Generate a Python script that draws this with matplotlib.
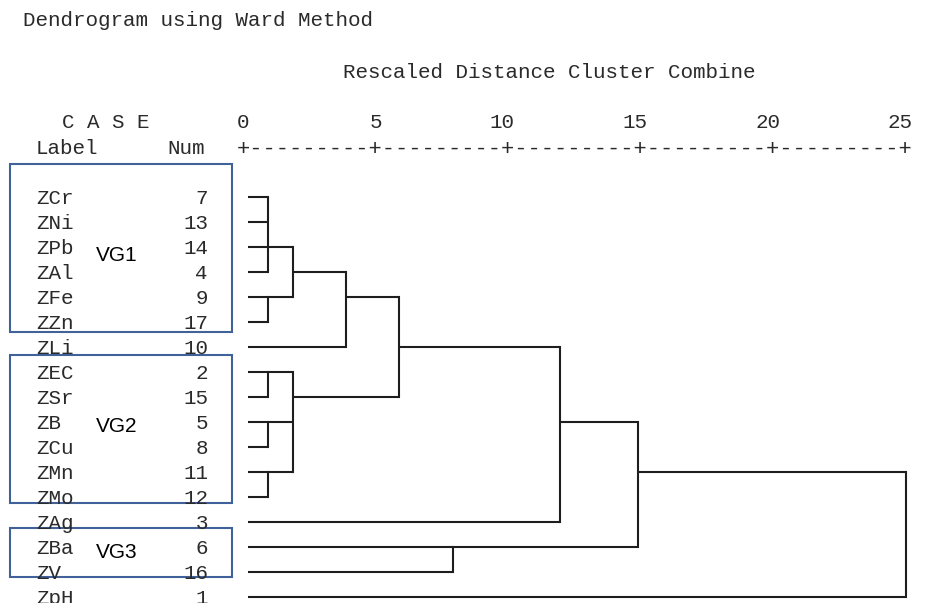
import matplotlib
matplotlib.use("Agg")
import matplotlib.pyplot as plt
from matplotlib.patches import Rectangle

#########################
# Data (SPSS hierarchical cluster output, Ward method)
labels = ["ZCr", "ZNi", "ZPb", "ZAl", "ZFe", "ZZn", "ZLi", "ZEC", "ZSr",
          "ZB", "ZCu", "ZMn", "ZMo", "ZAg", "ZBa", "ZV", "ZpH"]
case_num = [7, 13, 14, 4, 9, 17, 10, 2, 15, 5, 8, 11, 12, 3, 6, 16, 1]

# merges: children are leaf rows (0..16) or earlier merges (17 + index)
merge_children = [[0, 1, 2, 3], [4, 5], [17, 18], [19, 6], [7, 8], [9, 10],
                  [11, 12], [21, 22, 23], [20, 24], [25, 13], [14, 15],
                  [26, 27], [28, 16]]
merge_dist = [0.95, 0.95, 1.9, 3.9, 0.95, 0.95, 0.95, 1.9, 5.9, 11.95,
              7.9, 14.9, 25.0]
merge_row = [2, 4, 3, 4, 7, 9, 11, 8, 6, 9, 14, 11, 13]  # row the link leaves from

ticks = [0, 5, 10, 15, 20, 25]

groups = ["VG1", "VG2", "VG3"]
group_first = [0, 7, 14]
group_last = [5, 12, 15]
#########################

# layout (pixels of the 925x603 picture)
W, H = 925, 603
PX0, PXU = 243.0, 26.52   # x pixel of distance 0, pixels per unit
PY0, PYR = 196.7, 25.0    # y pixel of first row, pixels per row
leaf_start = 0.2
box_pad_top = [1.31, 0.67, 0.75]
box_pad_bot = [0.41, 0.25, 0.21]
group_label_row = [2.35, 9.2, 14.25]

def px_x(px):
    return (px - PX0) / PXU

def px_row(py):
    return (py - PY0) / PYR

mono = "Liberation Mono"
tcol = "#2a2a2a"
lcol = "#1e1e1e"
bcol = "#41619b"
fs = 15.0

fig = plt.figure(figsize=(W / 100, H / 100), dpi=100)
ax = fig.add_axes([0, 0, 1, 1])
ax.set_xlim(px_x(0), px_x(W))
ax.set_ylim(px_row(H), px_row(0))
ax.axis("off")

# dendrogram links
n_leaf = len(labels)
node_x = [leaf_start] * n_leaf
node_row = list(range(n_leaf))
for ch, d, r in zip(merge_children, merge_dist, merge_row):
    rows = [node_row[c] for c in ch]
    ax.plot([d, d], [min(rows), max(rows)], color=lcol, lw=1.5,
            solid_capstyle="projecting")
    for c in ch:
        ax.plot([node_x[c], d], [node_row[c], node_row[c]], color=lcol,
                lw=1.5, solid_capstyle="butt")
    node_x.append(d)
    node_row.append(r)

# case labels and numbers
for i, (lab, num) in enumerate(zip(labels, case_num)):
    ax.text(px_x(36), i, lab, family=mono, fontsize=fs, color=tcol,
            ha="left", va="center_baseline")
    ax.text(px_x(208), i, str(num), family=mono, fontsize=fs, color=tcol,
            ha="right", va="center_baseline")

# header
fig.text(23 / W, 1 - 20 / H, "Dendrogram using Ward Method", family=mono,
         fontsize=fs, color=tcol, ha="left", va="center")
fig.text(343 / W, 1 - 72 / H, "Rescaled Distance Cluster Combine",
         family=mono, fontsize=fs, color=tcol, ha="left", va="center")
ax.text(px_x(62), px_row(121), "C A S E", family=mono, fontsize=fs,
        color=tcol, ha="left", va="center_baseline")
ax.text(px_x(36), px_row(147), "Label", family=mono, fontsize=fs,
        color=tcol, ha="left", va="center_baseline")
ax.text(px_x(167), px_row(147), "Num", family=mono, fontsize=fs,
        color=tcol, ha="left", va="center_baseline")

# distance scale
for t in ticks:
    ax.text(t + 0.25, px_row(121), str(t), family=mono, fontsize=fs,
            color=tcol, ha="right", va="center_baseline")
ruler = "+" + "---------+" * (len(ticks) - 1)
ax.text(-0.25, px_row(147), ruler, family=mono, fontsize=15.9,
        color=tcol, ha="left", va="center_baseline")

# variable group boxes
for g, a, b, pt, pb, lr in zip(groups, group_first, group_last,
                               box_pad_top, box_pad_bot, group_label_row):
    y0 = a - pt
    y1 = b + pb
    ax.add_patch(Rectangle((px_x(10), y0), px_x(232) - px_x(10), y1 - y0,
                           fill=False, edgecolor=bcol, lw=1.5))
    ax.text(px_x(96), lr, g, family="Liberation Sans", fontsize=15,
            color="black", ha="left", va="center")

fig.savefig("out.png", dpi=100, facecolor="white")
